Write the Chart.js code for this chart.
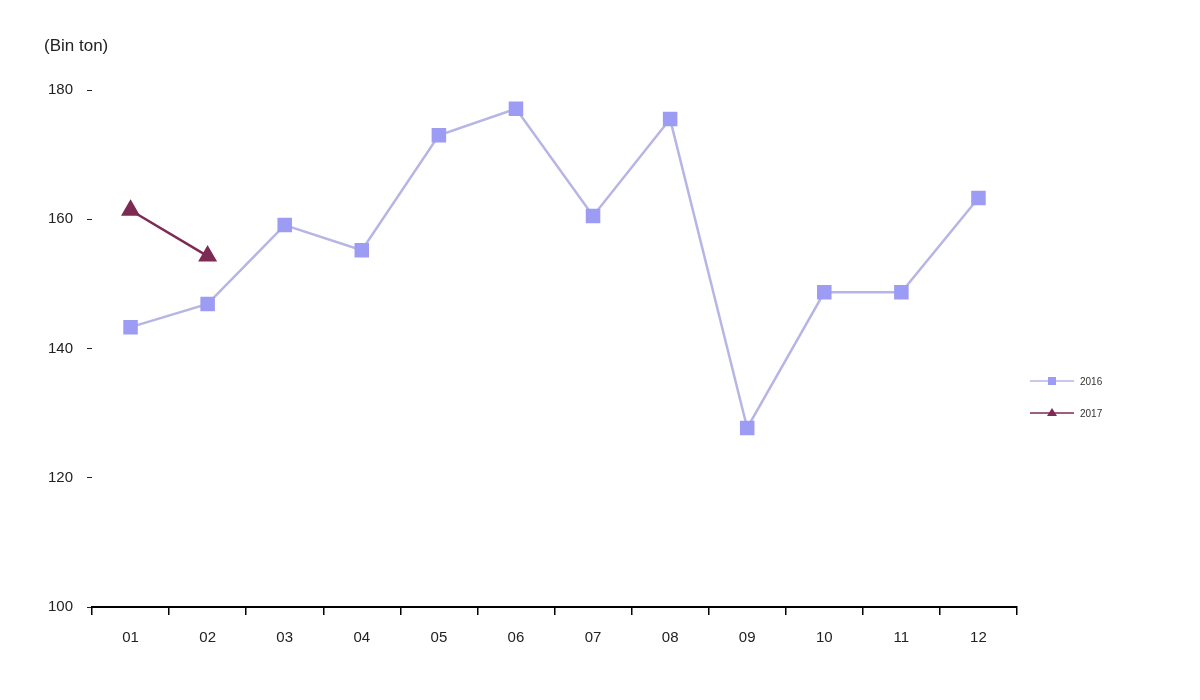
<!DOCTYPE html>
<html lang="en">
<head>
    <meta charset="UTF-8">
    <title>Bin ton</title>
    <script src="https://cdn.jsdelivr.net/npm/chart.js"></script>
    <style>
        * { box-sizing: border-box; margin: 0; padding: 0; }
        body { background: #fff; width: 1200px; height: 700px; overflow: hidden; }
        #wrap { position: relative; width: 1200px; height: 700px; }
        #unit {
            position: absolute; left: 44px; top: 36px;
            font-family: 'Liberation Sans', Arial, sans-serif;
            font-size: 17px; color: #222;
        }
    </style>
</head>
<body>
    <div id="wrap">
        <div id="unit">(Bin ton)</div>
        <canvas id="chart" width="1200" height="700"></canvas>
    </div>

    <script>
        const months = ['01', '02', '03', '04', '05', '06', '07', '08', '09', '10', '11', '12'];
        const series2016 = [143.3, 146.9, 159.1, 155.2, 173.0, 177.1, 160.5, 175.5, 127.7, 148.7, 148.7, 163.3];
        const series2017 = [161.4, 154.3];
        const yTicks = [100, 120, 140, 160, 180];

        // legend drawn on the right: short line + marker + label
        const sideLegend = {
            id: 'sideLegend',
            afterDraw(chart) {
                const ctx = chart.ctx;
                const items = chart.data.datasets.map((ds, i) => ({ ds, y: 381 + i * 32 }));
                ctx.save();
                items.forEach(({ ds, y }) => {
                    ctx.strokeStyle = ds.borderColor;
                    ctx.lineWidth = 1.5;
                    ctx.beginPath();
                    ctx.moveTo(1030, y);
                    ctx.lineTo(1074, y);
                    ctx.stroke();
                    ctx.fillStyle = ds.pointBackgroundColor;
                    if (ds.pointStyle === 'rect') {
                        ctx.fillRect(1048, y - 4, 8, 8);
                    } else {
                        ctx.beginPath();
                        ctx.moveTo(1052, y - 5);
                        ctx.lineTo(1057, y + 3);
                        ctx.lineTo(1047, y + 3);
                        ctx.closePath();
                        ctx.fill();
                    }
                    ctx.fillStyle = '#333';
                    ctx.font = '10px "Liberation Sans", Arial, sans-serif';
                    ctx.textBaseline = 'middle';
                    ctx.fillText(ds.label, 1080, y + 1);
                });
                ctx.restore();
            }
        };

        new Chart(document.getElementById('chart'), {
            type: 'line',
            data: {
                labels: months,
                datasets: [
                    {
                        label: '2016',
                        data: series2016,
                        borderColor: '#b7b5e6',
                        borderWidth: 2.5,
                        pointStyle: 'rect',
                        pointRadius: 8.5,
                        pointBackgroundColor: '#9d9cf4',
                        pointBorderColor: '#9d9cf4',
                        tension: 0
                    },
                    {
                        label: '2017',
                        data: series2017,
                        borderColor: '#7d2a55',
                        borderWidth: 2.5,
                        pointStyle: 'triangle',
                        pointRadius: 8.5,
                        pointBackgroundColor: '#7d2a55',
                        pointBorderColor: '#7d2a55',
                        tension: 0
                    }
                ]
            },
            options: {
                responsive: false,
                animation: false,
                layout: { padding: { top: 90, right: 183, bottom: 0, left: 0 } },
                plugins: {
                    legend: { display: false },
                    tooltip: { enabled: false }
                },
                scales: {
                    x: {
                        offset: true,
                        border: { color: '#000', width: 2 },
                        grid: { offset: true, drawOnChartArea: false, tickLength: 8, color: '#000', lineWidth: 1.5 },
                        ticks: {
                            color: '#222',
                            padding: 14,
                            font: { family: "'Liberation Sans', Arial, sans-serif", size: 15 }
                        },
                        afterFit(scale) { scale.height = 93; }
                    },
                    y: {
                        min: 100,
                        max: 180,
                        border: { display: false },
                        grid: { drawOnChartArea: false, tickLength: 5, color: '#222', lineWidth: 1 },
                        afterBuildTicks(scale) { scale.ticks = yTicks.map(v => ({ value: v })); },
                        ticks: {
                            color: '#222',
                            padding: 14,
                            font: { family: "'Liberation Sans', Arial, sans-serif", size: 15 }
                        },
                        afterFit(scale) { scale.width = 92; }
                    }
                }
            },
            plugins: [sideLegend]
        });
    </script>
</body>
</html>
